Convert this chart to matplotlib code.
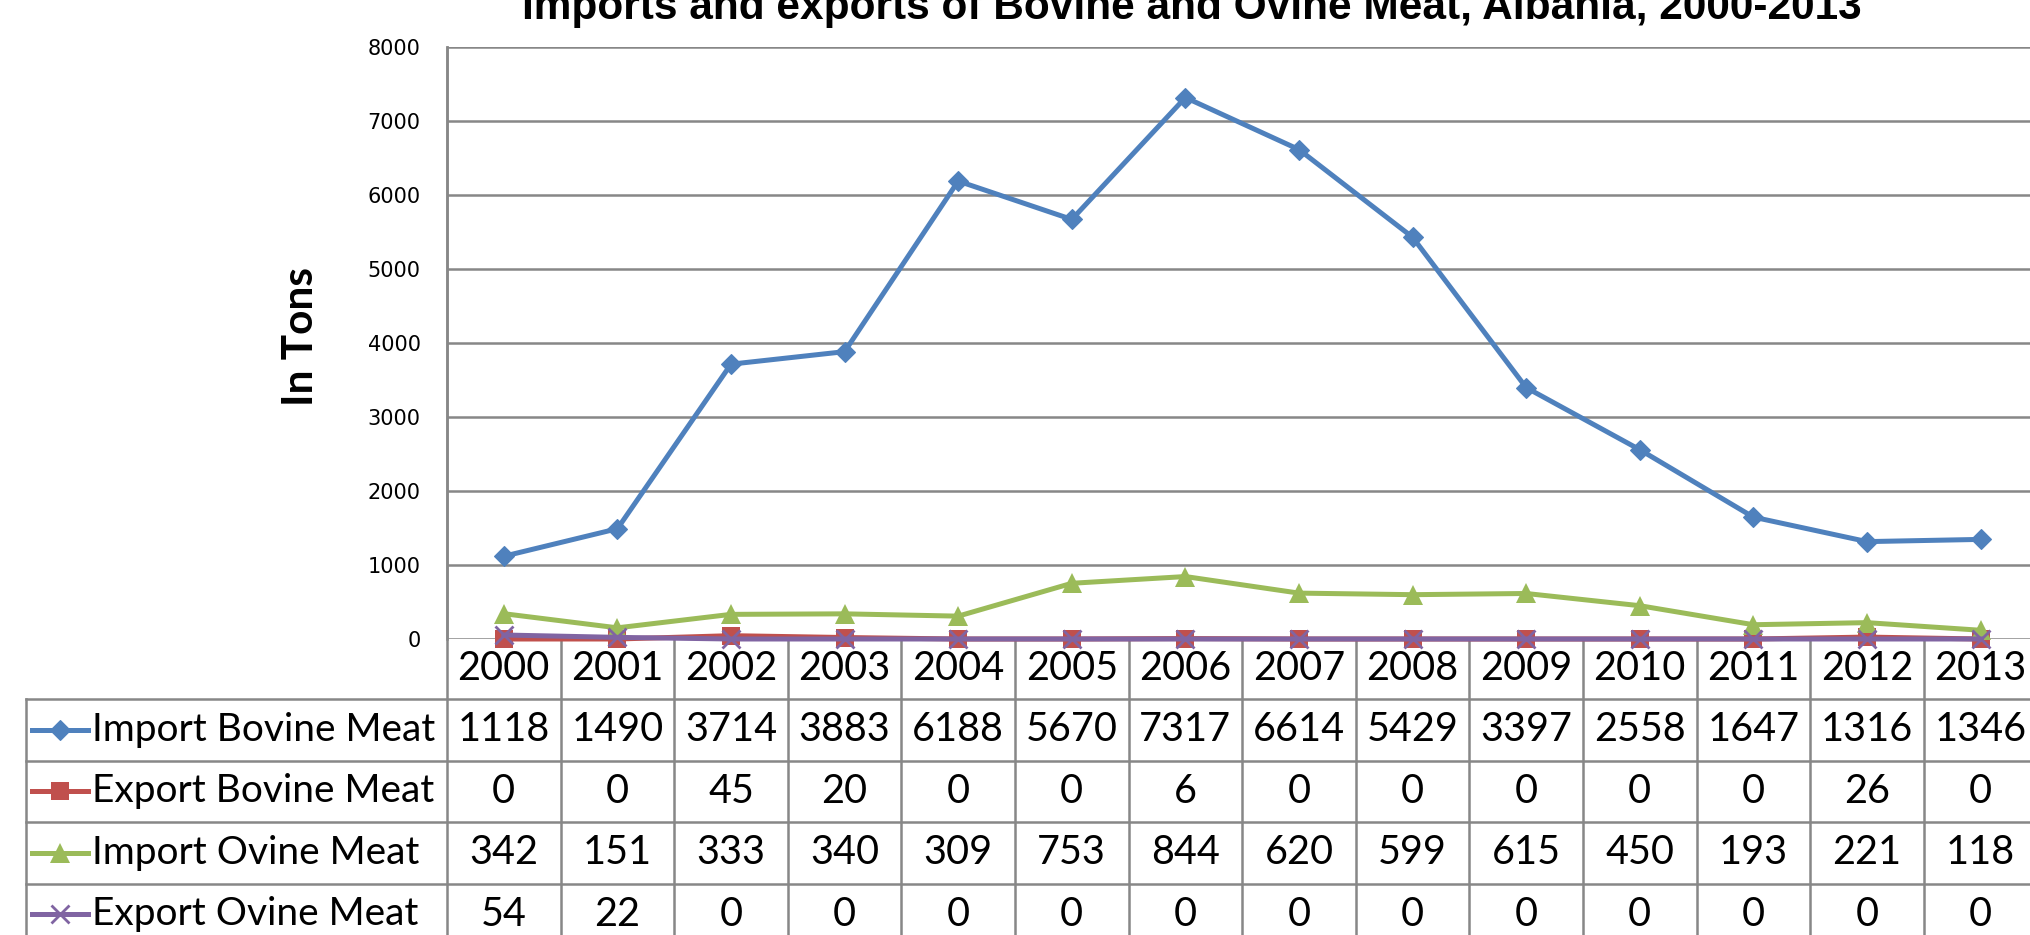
"""Imports and exports of bovine and ovine meat in Albania, 2000-2013.

Line chart with an Excel-style data table underneath: one column per year,
one row per series, each row keyed by a small line+marker sample.
"""

import matplotlib

matplotlib.use("Agg")  # headless
import matplotlib.pyplot as plt  # noqa: E402

years = [2000, 2001, 2002, 2003, 2004, 2005, 2006, 2007, 2008, 2009, 2010, 2011, 2012, 2013]
import_bovine = [1118, 1490, 3714, 3883, 6188, 5670, 7317, 6614, 5429, 3397, 2558, 1647, 1316, 1346]
export_bovine = [0, 0, 45, 20, 0, 0, 6, 0, 0, 0, 0, 0, 26, 0]
import_ovine = [342, 151, 333, 340, 309, 753, 844, 620, 599, 615, 450, 193, 221, 118]
export_ovine = [54, 22, 0, 0, 0, 0, 0, 0, 0, 0, 0, 0, 0, 0]

series_names = [
    "Import Bovine Meat",
    "Export Bovine Meat",
    "Import Ovine Meat",
    "Export Ovine Meat",
]
series_values = [import_bovine, export_bovine, import_ovine, export_ovine]

# Office 2007 palette, one marker per series
STYLES = [
    dict(color="#4F81BD", marker="D", ms=10.5, mew=0.8),
    dict(color="#C0504D", marker="s", ms=13.5, mew=0),
    dict(color="#9BBB59", marker="^", ms=14, mew=0),
    dict(color="#8064A2", marker="x", ms=12.5, mew=2.0),
]
LINE_W = 3.6

TITLE = "Imports and exports of Bovine and Ovine Meat, Albania, 2000-2013"

# page geometry in pixels (figure is 2031 x 935 at 100 dpi)
W, H = 2031, 935
PLOT_L = 447.0
COL_W = 113.6
Y_TOP, Y_ZERO = 47.0, 639.0
TABLE_L = 26.0
ROW_EDGES = [699.0, 760.5, 822.0, 883.5, 945.0]
GRID_C = "#878787"
TABLE_FONT = "Lato"
NUM_SIZE = 28.5
NAME_SIZE = 28


def fx(px):
    return px / W


def fy(py):
    return 1.0 - py / H


fig = plt.figure(figsize=(W / 100, H / 100), dpi=100)
fig.patch.set_facecolor("white")

n = len(years)
plot_r = PLOT_L + n * COL_W

# data table lives on a full-figure overlay measured in pixels, y pointing down
tab = fig.add_axes([0, 0, 1, 1])
tab.set_xlim(0, W)
tab.set_ylim(H, 0)
tab.axis("off")
tab.set_zorder(0)

ax = fig.add_axes([fx(PLOT_L), fy(Y_ZERO), (plot_r - PLOT_L) / W, (Y_ZERO - Y_TOP) / H])
ax.set_zorder(1)
ax.patch.set_visible(False)

x = list(range(n))
for vals, st in zip(series_values, STYLES):
    ax.plot(
        x, vals, color=st["color"], lw=LINE_W, marker=st["marker"], ms=st["ms"],
        mew=st["mew"], mec=st["color"], mfc=st["color"], clip_on=False,
    )

ax.set_xlim(-0.5, n - 0.5)
ax.set_ylim(0, 8000)
ax.set_yticks(range(0, 8001, 1000))
ax.set_xticks([])
ax.tick_params(axis="y", length=0, pad=19, labelsize=15, labelcolor="black")
ax.grid(axis="y", color=GRID_C, lw=1.8)
ax.set_axisbelow(True)
for side in ("top", "right", "bottom"):
    ax.spines[side].set_visible(False)
ax.spines["left"].set_color(GRID_C)
ax.spines["left"].set_linewidth(1.8)

# table rules
lw_tab = 1.8
tab.plot([PLOT_L, PLOT_L], [Y_TOP, ROW_EDGES[-1]], color=GRID_C, lw=lw_tab)
for i in range(1, n + 1):
    xe = PLOT_L + i * COL_W
    tab.plot([xe, xe], [Y_ZERO, ROW_EDGES[-1]], color=GRID_C, lw=lw_tab)
tab.plot([TABLE_L, TABLE_L], [ROW_EDGES[0], ROW_EDGES[-1]], color=GRID_C, lw=lw_tab)
for ye in ROW_EDGES[:-1]:
    tab.plot([TABLE_L, plot_r], [ye, ye], color=GRID_C, lw=lw_tab)

# year header
y_head = (Y_ZERO + ROW_EDGES[0]) / 2
for i, yr in enumerate(years):
    tab.text(PLOT_L + (i + 0.5) * COL_W, y_head, str(yr), ha="center", va="center",
             fontsize=NUM_SIZE, family=TABLE_FONT)

# one row per series: legend key, name, values
for r, (name, vals, st) in enumerate(zip(series_names, series_values, STYLES)):
    yc = (ROW_EDGES[r] + ROW_EDGES[r + 1]) / 2
    tab.plot([32, 88], [yc, yc], color=st["color"], lw=LINE_W)
    tab.plot([60], [yc], color=st["color"], marker=st["marker"], ms=st["ms"],
             mew=st["mew"], mec=st["color"], mfc=st["color"])
    tab.text(92, yc, name, ha="left", va="center", fontsize=NAME_SIZE, family=TABLE_FONT)
    for i, v in enumerate(vals):
        tab.text(PLOT_L + (i + 0.5) * COL_W, yc, str(v), ha="center", va="center",
                 fontsize=NUM_SIZE, family=TABLE_FONT)

fig.text(fx(1192), fy(19), TITLE, ha="center", va="baseline", fontsize=30.5,
         fontweight="bold", family="Liberation Sans")
fig.text(fx(301), fy(337), "In Tons", rotation=90, ha="center", va="center",
         fontsize=30.5, fontweight="bold", family=TABLE_FONT)

fig.savefig("out.png", dpi=100)
plt.close(fig)
